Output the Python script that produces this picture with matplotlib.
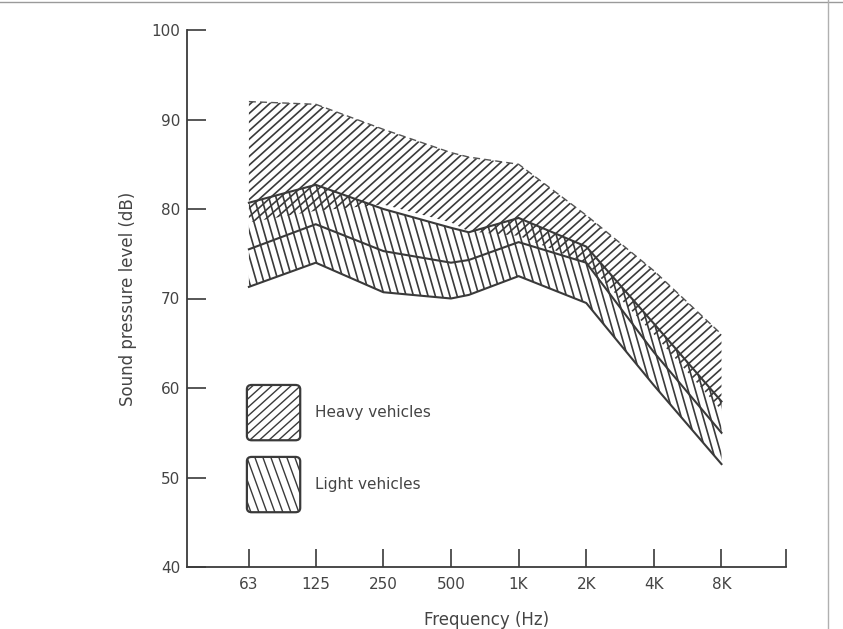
import numpy as np
import matplotlib
matplotlib.use("Agg")
import matplotlib.pyplot as plt
from matplotlib.collections import LineCollection
from matplotlib.patches import FancyBboxPatch
from matplotlib.lines import Line2D

# octave band values (dB)
freq = [63, 125, 250, 500, 600, 1000, 2000, 4000, 8000]
heavy_top = [92.0, 91.7, 88.9, 86.3, 85.8, 85.0, 79.3, 73.1, 66.0]
heavy_bottom = [78.5, 79.8, 80.5, 78.5, 77.5, 77.0, 74.0, 66.0, 57.5]
light_top = [80.7, 82.7, 80.0, 77.9, 77.4, 79.0, 75.8, 67.2, 58.5]
light_mid = [75.5, 78.3, 75.3, 74.0, 74.3, 76.3, 74.0, 64.0, 55.0]
light_bottom = [71.3, 74.0, 70.7, 70.0, 70.4, 72.5, 69.5, 60.3, 51.5]

xticks = [63, 125, 250, 500, 1000, 2000, 4000, 8000, 15500]
xticklabels = ["63", "125", "250", "500", "1K", "2K", "4K", "8K", ""]
yticks = [40, 50, 60, 70, 80, 90, 100]

ink = "#3a3a3a"


def hatch(ax, clip, angle, spacing, lw=1.2, color=ink):
    # parallel lines in pixel space, clipped to a region
    bb = ax.get_window_extent()
    W, H = bb.width, bb.height
    th = np.radians(angle)
    d = np.array([np.cos(th), np.sin(th)])
    n = np.array([-np.sin(th), np.cos(th)])
    L = np.hypot(W, H)
    c0 = np.array([W / 2, H / 2])
    segs = []
    for k in np.arange(-L, L, spacing):
        c = c0 + n * k
        p0 = (c - d * L) / [W, H]
        p1 = (c + d * L) / [W, H]
        segs.append([p0, p1])
    lc = LineCollection(segs, transform=ax.transAxes, colors=color, linewidths=lw)
    if isinstance(clip, tuple):
        lc.set_clip_path(*clip)
    else:
        lc.set_clip_path(clip)
    ax.add_collection(lc)


fig = plt.figure(figsize=(8.43, 6.29), dpi=100)
ax = fig.add_axes([187 / 843, 1 - 567 / 629, 599 / 843, 537 / 629])
ax.set_xscale("log", base=2)
ax.set_xlim(33.4, 15500)
ax.set_ylim(40, 100)

heavy = ax.fill_between(freq, heavy_bottom, heavy_top, facecolor="none", edgecolor="none")
light = ax.fill_between(freq, light_bottom, light_top, facecolor="none", edgecolor="none")
hatch(ax, (heavy.get_paths()[0], ax.transData), 42, 6.4)
hatch(ax, (light.get_paths()[0], ax.transData), -74, 7.0)

ax.plot(freq, heavy_top, color="#555555", lw=1.0, ls=(0, (5, 3)))
ax.plot(freq, light_top, color=ink, lw=1.5)
ax.plot(freq, light_mid, color=ink, lw=1.5)
ax.plot(freq, light_bottom, color=ink, lw=1.5)

# legend boxes
for y0, ang, sp, label in [(0.236, 42, 6.4, "Heavy vehicles"), (0.102, -70, 7.5, "Light vehicles")]:
    box = FancyBboxPatch((0.100, y0), 0.089, 0.103, boxstyle="round,pad=0,rounding_size=0.008",
                         transform=ax.transAxes, facecolor="white", edgecolor=ink, lw=1.6)
    ax.add_patch(box)
    hatch(ax, box, ang, sp, lw=1.0)
    ax.text(0.214, y0 + 0.051, label, transform=ax.transAxes, fontsize=11,
            color="#444444", va="center", ha="left")

ax.set_xticks(xticks)
ax.set_xticklabels(xticklabels)
ax.minorticks_off()
ax.set_yticks(yticks)
ax.tick_params(axis="x", direction="in", length=13, width=1.2, color=ink,
               labelsize=11, labelcolor="#444444", pad=7)
ax.tick_params(axis="y", direction="in", length=14, width=1.2, color=ink,
               labelsize=11, labelcolor="#444444", pad=5)
for s in ["top", "right"]:
    ax.spines[s].set_visible(False)
for s in ["left", "bottom"]:
    ax.spines[s].set_color(ink)
    ax.spines[s].set_linewidth(1.3)

ax.set_xlabel("Frequency (Hz)", fontsize=12, color="#444444", labelpad=14)
ax.set_ylabel("Sound pressure level (dB)", fontsize=12, color="#444444", labelpad=10)

# page edges from the scan
fig.add_artist(Line2D([0, 1], [0.997, 0.997], transform=fig.transFigure, color="#9a9a9a", lw=1))
fig.add_artist(Line2D([828 / 843, 828 / 843], [0, 1], transform=fig.transFigure, color="#b0b0b0", lw=1))

fig.savefig("out.png", dpi=100)
